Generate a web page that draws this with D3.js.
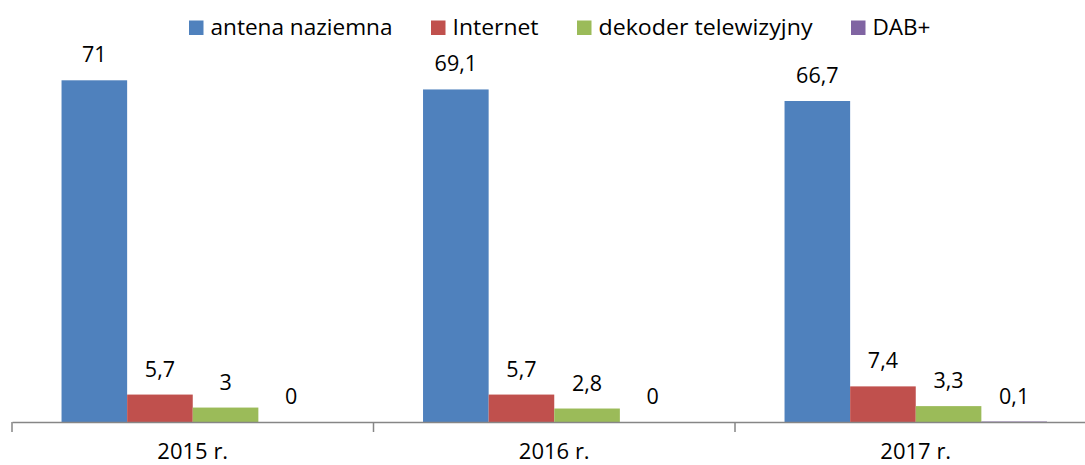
<!DOCTYPE html>
<html>
<head>
<meta charset="utf-8">
<script src="https://cdn.jsdelivr.net/npm/d3@7"></script>
<style>
  body { margin: 0; background: #fff; }
  svg { display: block; font-family: "Open Sans", Lato, sans-serif; }
</style>
</head>
<body>
<svg width="1085" height="465"></svg>
<script>
var years = ["2015 r.", "2016 r.", "2017 r."],
    series = ["antena naziemna", "Internet", "dekoder telewizyjny", "DAB+"],
    colors = ["#4F81BD", "#C0504D", "#9BBB59", "#8064A2"];

var antena = [71, 69.1, 66.7],
    internet = [5.7, 5.7, 7.4],
    dekoder = [3, 2.8, 3.3],
    dab = [0, 0, 0.1];

var values = [antena, internet, dekoder, dab];

var svg = d3.select("svg");

var x0 = d3.scaleBand()
    .domain(years)
    .range([12, 1096.5]);

var x1 = d3.scaleBand()
    .domain(series)
    .range([0, x0.bandwidth()])
    .paddingInner(0)
    .paddingOuter(0.755);

var y = d3.scaleLinear()
    .domain([0, 71])
    .range([422, 80.3]);

var color = d3.scaleOrdinal().domain(series).range(colors);

var rows = [];
years.forEach(function(yr, i) {
  series.forEach(function(s, j) {
    rows.push({year: yr, series: s, value: values[j][i]});
  });
});

var fmt = function(v) { return String(v).replace(".", ","); };

svg.append("g").selectAll("rect")
  .data(rows)
  .join("rect")
    .attr("x", function(d) { return x0(d.year) + x1(d.series); })
    .attr("y", function(d) { return y(d.value); })
    .attr("width", x1.bandwidth())
    .attr("height", function(d) { return y(0) - y(d.value); })
    .attr("fill", function(d) { return color(d.series); });

svg.append("g").selectAll("text")
  .data(rows)
  .join("text")
    .attr("x", function(d) { return x0(d.year) + x1(d.series) + x1.bandwidth() / 2; })
    .attr("y", function(d) { return y(d.value) - 18; })
    .attr("text-anchor", "middle")
    .attr("font-size", 21.5)
    .attr("fill", "#000")
    .text(function(d) { return fmt(d.value); });

// x axis
var axis = svg.append("g")
    .attr("transform", "translate(0,422)")
    .call(d3.axisBottom(x0).tickSize(0));
axis.select(".domain").attr("stroke", "#868686").attr("stroke-width", 1.5);
axis.selectAll(".tick text")
    .attr("y", 37)
    .attr("dy", null)
    .attr("font-size", 22)
    .attr("fill", "#000")
    .attr("font-family", "'Open Sans', Lato, sans-serif");

axis.selectAll(".sep")
  .data(years)
  .join("line")
    .attr("class", "sep")
    .attr("x1", function(d) { return x0(d); })
    .attr("x2", function(d) { return x0(d); })
    .attr("y1", 0)
    .attr("y2", 10)
    .attr("stroke", "#868686")
    .attr("stroke-width", 1.5);

// legend
var legendX = [189, 431, 577, 851],
    legendW = [182, 86, 214, 58];
var legend = svg.append("g").selectAll("g")
  .data(series)
  .join("g")
    .attr("transform", function(d, i) { return "translate(" + legendX[i] + ",0)"; });
legend.append("rect")
    .attr("x", 0)
    .attr("y", 20.5)
    .attr("width", 14.5)
    .attr("height", 14.5)
    .attr("fill", function(d) { return color(d); });
legend.append("text")
    .attr("x", 21.5)
    .attr("y", 35)
    .attr("font-size", 22)
    .attr("textLength", function(d, i) { return legendW[i]; })
    .attr("lengthAdjust", "spacingAndGlyphs")
    .text(function(d) { return d; });
</script>
</body>
</html>
